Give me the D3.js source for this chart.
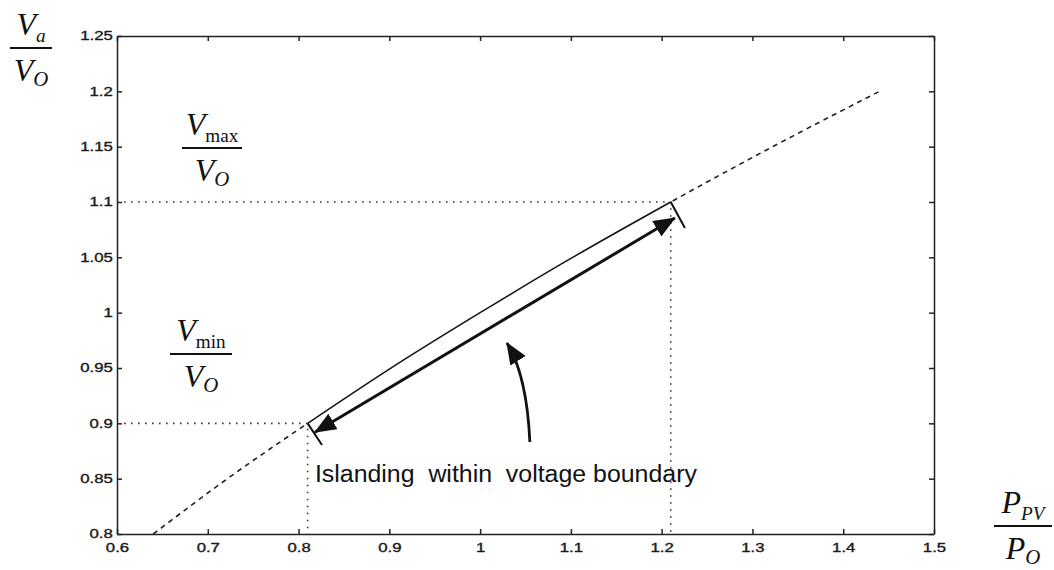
<!DOCTYPE html>
<html>
<head>
<meta charset="utf-8">
<script src="https://cdn.jsdelivr.net/npm/d3@7"></script>
<style>
  body { margin: 0; background: #fff; }
  svg { display: block; }
  .tick text { font-family: "Liberation Sans", Arial, sans-serif; font-size: 12px; fill: #1a1a1a; stroke: #1a1a1a; stroke-width: 0.35px; }
  .frac { font-family: "Liberation Serif", "Times New Roman", serif; fill: #111; }
</style>
</head>
<body>
<div id="chart"></div>
<script>
// voltage ratio vs power ratio
var curveX = [0.64, 0.72, 0.81, 0.90, 1.00, 1.10, 1.21, 1.32, 1.44];
var curveY = [0.80, 0.849, 0.90, 0.949, 1.00, 1.049, 1.10, 1.149, 1.20];

// islanding boundary (Vmin at 0.81, Vmax at 1.21)
var boundX = [0.81, 1.21];
var boundY = [0.90, 1.10];

var xTicks = [0.6, 0.7, 0.8, 0.9, 1.0, 1.1, 1.2, 1.3, 1.4, 1.5];
var xTickLabels = ["0.6", "0.7", "0.8", "0.9", "1", "1.1", "1.2", "1.3", "1.4", "1.5"];
var yTicks = [0.8, 0.85, 0.9, 0.95, 1.0, 1.05, 1.1, 1.15, 1.2, 1.25];
var yTickLabels = ["0.8", "0.85", "0.9", "0.95", "1", "1.05", "1.1", "1.15", "1.2", "1.25"];

// annotation pieces, in data units
var arrowEnds = [[0.818, 0.892], [1.2145, 1.0855]];
var endBars = [[[0.81, 0.90], [0.8258, 0.8804]], [[1.21, 1.10], [1.2256, 1.0765]]];
var curvedArrow = [[1.0548, 0.8831], [1.0515, 0.9437], [1.0295, 0.9726]];
var noteText = "Islanding  within  voltage boundary";
var notePos = [0.818, 0.847];

var w = 1054, h = 570;
var padL = 117, padR = 934, padT = 36, padB = 534;

var svg = d3.select("body div#chart").append("svg")
  .attr("width", w)
  .attr("height", h);

var x = d3.scaleLinear().domain([0.6, 1.5]).range([padL, padR]);
var y = d3.scaleLinear().domain([0.8, 1.25]).range([padB, padT]);

function styleAxis(g) {
  g.select(".domain").attr("stroke", "#222").attr("stroke-width", 1.5);
  g.selectAll(".tick line").attr("stroke", "#222").attr("stroke-width", 1.5);
}

// the scanned labels are wide and short, so stretch them sideways
svg.append("g")
  .attr("transform", "translate(0," + padB + ")")
  .call(d3.axisBottom(x).tickValues(xTicks).tickSize(-5).tickSizeOuter(0).tickPadding(9)
    .tickFormat(function(d, i) { return xTickLabels[i]; }))
  .call(styleAxis)
  .selectAll(".tick text").attr("transform", "scale(1.4,1)");

svg.append("g")
  .attr("transform", "translate(" + padL + ",0)")
  .call(d3.axisLeft(y).tickValues(yTicks).tickSize(-5).tickSizeOuter(0).tickPadding(3)
    .tickFormat(function(d, i) { return yTickLabels[i]; }))
  .call(styleAxis)
  .selectAll(".tick text").attr("transform", "scale(1.4,1)");

svg.append("g")
  .attr("transform", "translate(0," + padT + ")")
  .call(d3.axisTop(x).tickValues(xTicks).tickSize(-5).tickSizeOuter(0).tickFormat(""))
  .call(styleAxis);

svg.append("g")
  .attr("transform", "translate(" + padR + ",0)")
  .call(d3.axisRight(y).tickValues(yTicks).tickSize(-5).tickSizeOuter(0).tickFormat(""))
  .call(styleAxis);

svg.selectAll(".tick text").attr("font-size", null).attr("font-family", null);

// dotted guide lines
boundX.forEach(function(bx, i) {
  var by = boundY[i];
  svg.append("path")
    .attr("d", d3.line()([[x(0.6), y(by)], [x(bx), y(by)], [x(bx), y(0.8)]]))
    .attr("fill", "none")
    .attr("stroke", "#333")
    .attr("stroke-width", 1.6)
    .attr("stroke-dasharray", "1.6,5.4");
});

var pts = curveX.map(function(d, i) { return [d, curveY[i]]; });
var line = d3.line()
  .x(function(d) { return x(d[0]); })
  .y(function(d) { return y(d[1]); })
  .curve(d3.curveMonotoneX);

svg.append("path")
  .attr("d", line(pts))
  .attr("fill", "none")
  .attr("stroke", "#222")
  .attr("stroke-width", 1.6)
  .attr("stroke-dasharray", "5,4.5");

// solid part inside the boundary, drawn over a white backing
var inner = pts.filter(function(d) { return d[0] >= boundX[0] && d[0] <= boundX[1]; });
svg.append("path")
  .attr("d", line(inner))
  .attr("fill", "none")
  .attr("stroke", "#fff")
  .attr("stroke-width", 3);
svg.append("path")
  .attr("d", line(inner))
  .attr("fill", "none")
  .attr("stroke", "#111")
  .attr("stroke-width", 1.5);

endBars.forEach(function(b) {
  svg.append("line")
    .attr("x1", x(b[0][0])).attr("y1", y(b[0][1]))
    .attr("x2", x(b[1][0])).attr("y2", y(b[1][1]))
    .attr("stroke", "#111")
    .attr("stroke-width", 2);
});

var defs = svg.append("defs");
defs.append("marker")
  .attr("id", "head")
  .attr("markerUnits", "userSpaceOnUse")
  .attr("viewBox", "0 -9 22 18")
  .attr("refX", 21).attr("refY", 0)
  .attr("markerWidth", 22).attr("markerHeight", 18)
  .attr("orient", "auto-start-reverse")
  .append("path")
  .attr("d", "M0,-9L22,0L0,9Z")
  .attr("fill", "#111");

svg.append("line")
  .attr("x1", x(arrowEnds[0][0])).attr("y1", y(arrowEnds[0][1]))
  .attr("x2", x(arrowEnds[1][0])).attr("y2", y(arrowEnds[1][1]))
  .attr("stroke", "#111")
  .attr("stroke-width", 3)
  .attr("marker-start", "url(#head)")
  .attr("marker-end", "url(#head)");

var c = curvedArrow.map(function(d) { return [x(d[0]), y(d[1])]; });
svg.append("path")
  .attr("d", "M" + c[0] + "Q" + c[1] + " " + c[2])
  .attr("fill", "none")
  .attr("stroke", "#111")
  .attr("stroke-width", 2.8)
  .attr("marker-end", "url(#head)");

svg.append("text")
  .attr("x", x(notePos[0]))
  .attr("y", y(notePos[1]))
  .attr("font-family", "'Liberation Sans', Arial, sans-serif")
  .attr("font-size", 23)
  .attr("fill", "#111")
  .attr("textLength", 382)
  .attr("lengthAdjust", "spacingAndGlyphs")
  .style("white-space", "pre")
  .text(noteText);

// fraction labels
function frac(cx, barY, barW, num, numSub, numSubItalic, den, denSub, size) {
  var g = svg.append("g").attr("class", "frac");
  var t1 = g.append("text").attr("x", cx).attr("y", barY - 13)
    .attr("text-anchor", "middle").attr("font-size", size);
  t1.append("tspan").attr("font-style", "italic").text(num);
  t1.append("tspan").attr("dy", 7).attr("font-size", size * 0.6)
    .attr("font-style", numSubItalic ? "italic" : "normal").text(numSub);
  g.append("line")
    .attr("x1", cx - barW / 2).attr("x2", cx + barW / 2)
    .attr("y1", barY).attr("y2", barY)
    .attr("stroke", "#111").attr("stroke-width", 2);
  var t2 = g.append("text").attr("x", cx).attr("y", barY + 33)
    .attr("text-anchor", "middle").attr("font-size", size);
  t2.append("tspan").attr("font-style", "italic").text(den);
  t2.append("tspan").attr("dy", 5).attr("font-size", size * 0.65)
    .attr("font-style", "italic").text(denSub);
}

frac(31, 48, 42, "V", "a", true, "V", "O", 32);
frac(212, 148, 60, "V", "max", false, "V", "O", 32);
frac(201, 354, 62, "V", "min", false, "V", "O", 32);
frac(1023, 526, 58, "P", "PV", true, "P", "O", 32);
</script>
</body>
</html>
